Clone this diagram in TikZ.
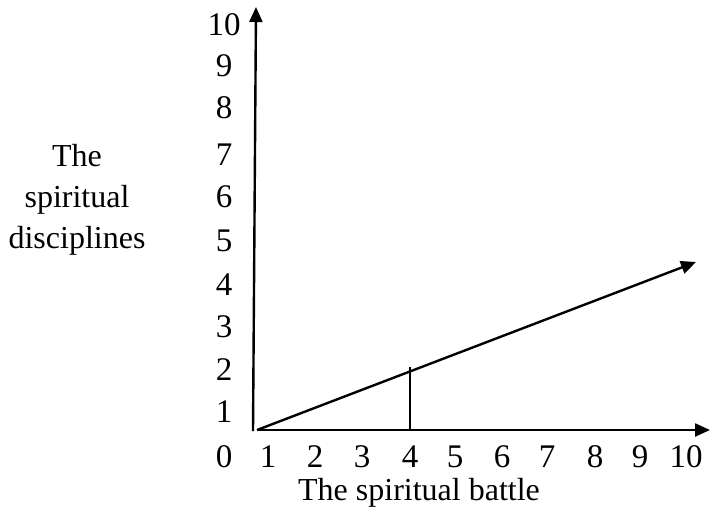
\documentclass[tikz,border=0pt]{standalone}
\usepackage{fontspec}
\setmainfont{Liberation Serif}
\usetikzlibrary{arrows.meta,positioning,calc}

\tikzset{
  axisline/.style={line width=2.4pt, -{Triangle[length=15pt,width=13pt]}},
  numlab/.style={font=\fontsize{33}{36}\selectfont, inner sep=0pt},
  axislab/.style={font=\fontsize{32}{41}\selectfont, align=center, inner sep=0pt}
}

\begin{document}
\begin{tikzpicture}[x=1pt,y=-1pt]
\useasboundingbox (0,0) rectangle (710,512);
% axes
\coordinate (ybase) at (253,431);
\coordinate (ytip) at (256,7);
\coordinate (orig) at (257,430);
\coordinate (xtip) at (710,430);
\coordinate (rtip) at (696,262);
\draw[axisline] (ybase) -- (ytip);
\draw[axisline] (orig) -- (xtip);
\draw[axisline] (orig) -- (rtip);
% mark at 4
\coordinate (foot) at (410,430);
\coordinate (hit) at (410,367);
\draw[line width=1.8pt] (foot) -- (hit);
% numbers on the vertical axis
\foreach \v/\y in {0/457,1/412,2/370,3/327,4/285,5/241,6/197,7/155,8/108,9/66,10/25} {
  \node[numlab] (ylab\v) at (224,\y) {\v};
}
% numbers on the horizontal axis
\foreach \v/\x in {1/268,2/315,3/362,4/410,5/455,6/502,7/547,8/595,9/640,10/686} {
  \node[numlab] (xlab\v) at (\x,457) {\v};
}
\node[axislab] (xname) at (419,493) {The spiritual battle};
\node[axislab] (yname) at (77,200) {The\\spiritual\\disciplines};
\end{tikzpicture}
\end{document}
